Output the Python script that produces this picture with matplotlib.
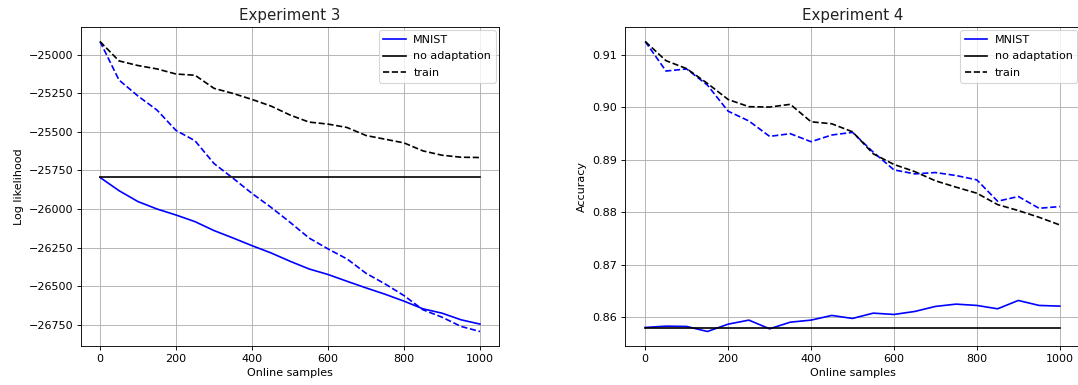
import numpy as np
import matplotlib
matplotlib.use("Agg")
import matplotlib.pyplot as plt

# Online samples seen during adaptation
samples = np.arange(0, 1001, 50)

# Experiment 3: log likelihood
ll_mnist = [-25795, -25881, -25952, -26000, -26039, -26082, -26140, -26188, -26238, -26285,
            -26339, -26389, -26425, -26469, -26512, -26553, -26598, -26648, -26676, -26719, -26747]
ll_mnist_train = [-24913, -25163, -25267, -25358, -25490, -25557, -25705, -25800, -25899, -25989,
                  -26086, -26188, -26259, -26324, -26417, -26486, -26562, -26654, -26702, -26762, -26795]
ll_no_adapt = -25795
ll_train = [-24913, -25039, -25069, -25091, -25124, -25132, -25217, -25250, -25289, -25332,
            -25390, -25436, -25449, -25471, -25523, -25547, -25571, -25623, -25651, -25664, -25666]

# Experiment 4: accuracy
acc_mnist = [0.85803, 0.85828, 0.85822, 0.85726, 0.85866, 0.85943, 0.85777, 0.85904, 0.85943, 0.86032,
             0.85975, 0.86076, 0.86051, 0.86108, 0.86204, 0.86248, 0.86223, 0.86159, 0.86318, 0.86223, 0.86210]
acc_mnist_train = [0.91256, 0.90693, 0.90732, 0.90425, 0.89927, 0.89741, 0.89447, 0.89498, 0.89345, 0.89473,
                   0.89524, 0.89147, 0.88808, 0.88732, 0.88757, 0.88700, 0.88617, 0.88210, 0.88300, 0.88076, 0.88108]
acc_no_adapt = 0.85796
acc_train = [0.91256, 0.90891, 0.90738, 0.90457, 0.90150, 0.90013, 0.90006, 0.90058, 0.89725, 0.89687,
             0.89534, 0.89115, 0.88911, 0.88776, 0.88600, 0.88478, 0.88363, 0.88146, 0.88032, 0.87904, 0.87758]

W, H = 1078, 385
DPI = 80
fig = plt.figure(figsize=(W / DPI, H / DPI), dpi=DPI)
ax1 = fig.add_axes([81 / W, 39 / H, 418 / W, 319 / H])
ax2 = fig.add_axes([624.5 / W, 39 / H, 456 / W, 319 / H])


def draw(ax, mnist, mnist_train, no_adapt, train, title, ylabel):
    ax.plot(samples, mnist, color='blue', label='MNIST')
    ax.plot(samples, mnist_train, color='blue', linestyle='--')
    ax.plot(samples, [no_adapt] * len(samples), color='black', label='no adaptation')
    ax.plot(samples, train, color='black', linestyle='--', label='train')
    ax.set_title(title, fontsize=13.5, color='#222222')
    ax.set_xlabel('Online samples')
    ax.set_ylabel(ylabel)
    ax.grid(True)
    ax.legend(loc='upper right', borderaxespad=0.3, labelspacing=0.6, handletextpad=0.7)


draw(ax1, ll_mnist, ll_mnist_train, ll_no_adapt, ll_train, 'Experiment 3', 'Log likelihood')
draw(ax2, acc_mnist, acc_mnist_train, acc_no_adapt, acc_train, 'Experiment 4', 'Accuracy')
ax1.set_yticks([-25000, -25250, -25500, -25750, -26000, -26250, -26500, -26750])
ax2.set_yticks([0.86, 0.87, 0.88, 0.89, 0.90, 0.91])

fig.savefig('out.png', dpi=DPI)
